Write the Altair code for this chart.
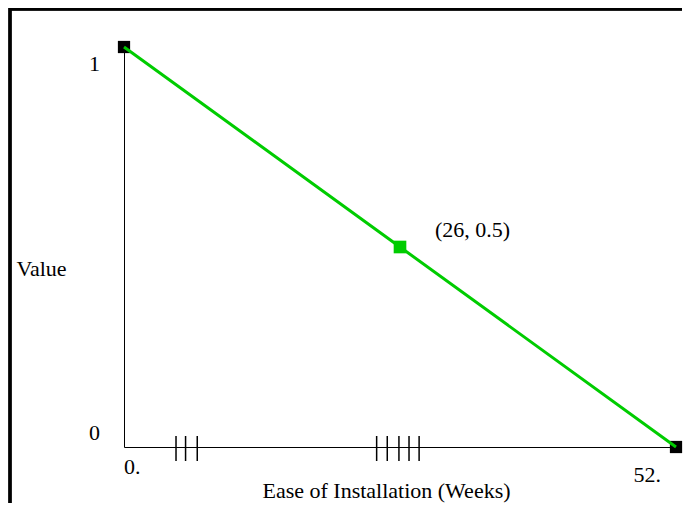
import altair as alt
import pandas as pd

# data
xs = [0, 26, 52]
ys = [1.0, 0.5, 0.0]
point_colors = ["black", "#00cc00", "black"]
rug_x = [4.9, 5.8, 6.9, 23.8, 24.8, 25.9, 26.85, 27.8]
x_tick_values = [0, 52]
x_tick_labels = ["0.", "52."]
y_tick_values = [0, 1]
y_tick_labels = ["0", "1"]
annotation = "(26, 0.5)"

FONT = "Liberation Serif"
FS = 22
GREEN = "#00cc00"

pts = pd.DataFrame({"x": xs, "y": ys, "c": point_colors})
rug = pd.DataFrame({"x": rug_x})
xt = pd.DataFrame({"v": x_tick_values, "lab": x_tick_labels, "y": [0, 0]})
yt = pd.DataFrame({"v": y_tick_values, "lab": y_tick_labels, "x": [0, 0]})
ann = pd.DataFrame({"x": [xs[1]], "y": [ys[1]], "lab": [annotation]})

xscale = alt.Scale(domain=[0, 52], nice=False, zero=False)
yscale = alt.Scale(domain=[0, 1], nice=False, zero=False)

xaxis = alt.Axis(domain=True, domainColor="black", domainWidth=1, ticks=False,
                 labels=False, grid=False, title="Ease of Installation (Weeks)",
                 titleFont=FONT, titleFontSize=FS, titleFontWeight="normal",
                 titleColor="black", titleX=262, titleY=43, titleBaseline="middle",
                 titleAlign="center")
yaxis = alt.Axis(domain=True, domainColor="black", domainWidth=1, ticks=False,
                 labels=False, grid=False, title="Value", titleAngle=0,
                 titleFont=FONT, titleFontSize=FS, titleFontWeight="normal",
                 titleColor="black", titleX=-108, titleY=221, titleBaseline="middle",
                 titleAlign="left")

base = alt.Chart(pts)

ends = base.transform_filter("datum.c == 'black'").mark_point(
    shape="square", filled=True, size=150, color="black", opacity=1
).encode(x=alt.X("x:Q", scale=xscale, axis=xaxis), y=alt.Y("y:Q", scale=yscale, axis=yaxis))

line = base.mark_line(color=GREEN, strokeWidth=3).encode(
    x=alt.X("x:Q", scale=xscale), y=alt.Y("y:Q", scale=yscale))

mid = base.transform_filter("datum.c != 'black'").mark_point(
    shape="square", filled=True, size=160, color=GREEN, opacity=1
).encode(x=alt.X("x:Q", scale=xscale), y=alt.Y("y:Q", scale=yscale))

rugs = alt.Chart(rug).mark_rule(color="black", strokeWidth=1.5).encode(
    x=alt.X("x:Q", scale=xscale), y=alt.value(389), y2=alt.value(414))

ann_t = alt.Chart(ann).mark_text(font=FONT, fontSize=FS, align="left", baseline="middle",
                                 dx=35, dy=-17, color="black").encode(
    x=alt.X("x:Q", scale=xscale), y=alt.Y("y:Q", scale=yscale), text="lab:N")

x0 = alt.Chart(xt).transform_filter("datum.v == 0").mark_text(
    font=FONT, fontSize=FS, align="left", baseline="middle", dy=20, color="black"
).encode(x=alt.X("v:Q", scale=xscale), y=alt.Y("y:Q", scale=yscale), text="lab:N")
x1 = alt.Chart(xt).transform_filter("datum.v != 0").mark_text(
    font=FONT, fontSize=FS, align="right", baseline="middle", dx=-15, dy=28, color="black"
).encode(x=alt.X("v:Q", scale=xscale), y=alt.Y("y:Q", scale=yscale), text="lab:N")
y1 = alt.Chart(yt).transform_filter("datum.v == 1").mark_text(
    font=FONT, fontSize=FS, align="right", baseline="middle", dx=-24, dy=17, color="black"
).encode(x=alt.X("x:Q", scale=xscale), y=alt.Y("v:Q", scale=yscale), text="lab:N")
y0 = alt.Chart(yt).transform_filter("datum.v == 0").mark_text(
    font=FONT, fontSize=FS, align="right", baseline="middle", dx=-24, dy=-14, color="black"
).encode(x=alt.X("x:Q", scale=xscale), y=alt.Y("v:Q", scale=yscale), text="lab:N")

frame_top = alt.Chart(pts).mark_rule(color="black", strokeWidth=3).encode(
    x=alt.value(-115), x2=alt.value(558), y=alt.value(-38))
frame_left = alt.Chart(pts).mark_rule(color="black", strokeWidth=3).encode(
    x=alt.value(-114), y=alt.value(-39), y2=alt.value(470))

chart = alt.layer(ends, line, mid, rugs, ann_t, x0, x1, y1, y0, frame_top, frame_left).properties(
    width=552, height=400,
    autosize=alt.AutoSizeParams(type="none"),
    padding={"left": 116, "top": 39, "right": 7, "bottom": 56},
).configure_view(stroke=None)

chart.save("out.html", embed_options={"renderer": "svg", "actions": False})
